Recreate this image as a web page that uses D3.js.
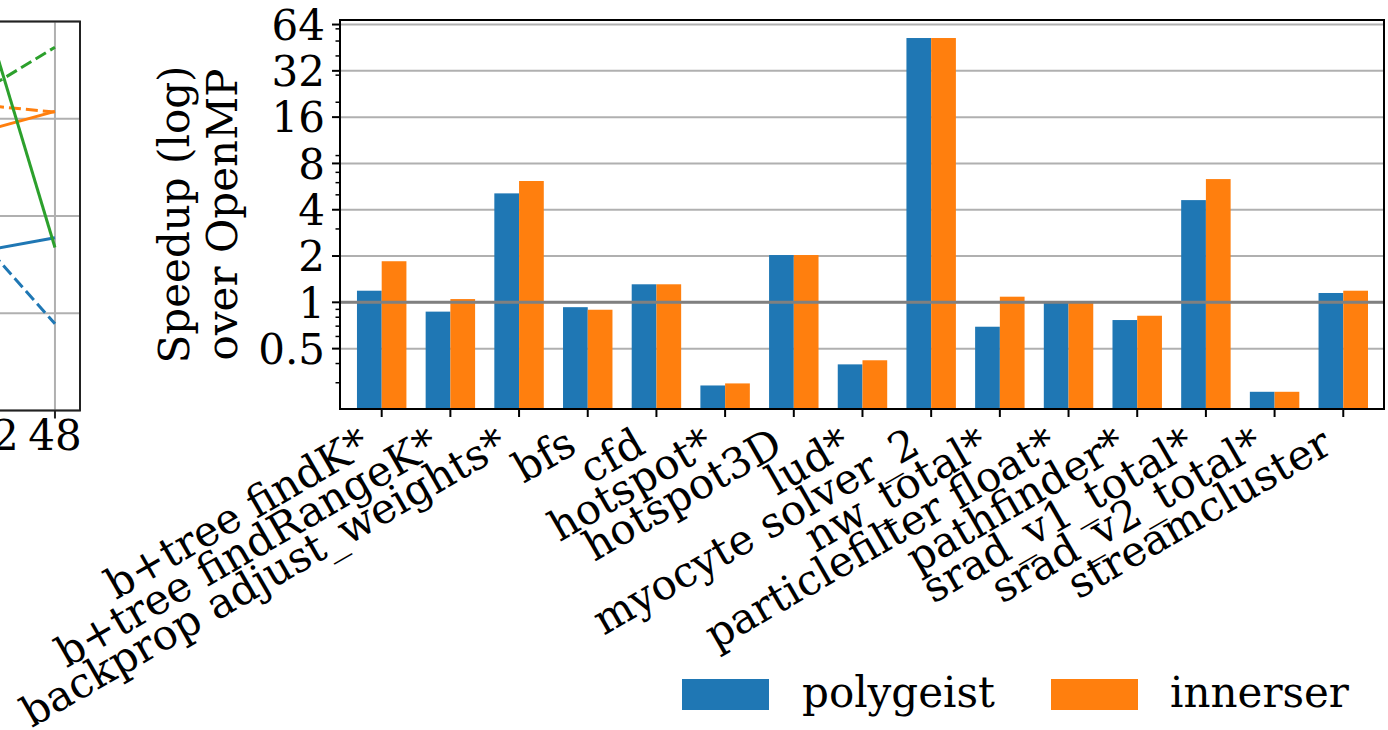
<!DOCTYPE html>
<html>
<head>
<meta charset="utf-8">
<script src="https://cdn.jsdelivr.net/npm/d3@7"></script>
<style>
  html, body { margin: 0; padding: 0; background: #fff; }
  svg { display: block; }
  text { font-family: "DejaVu Serif", serif; fill: #000; }
</style>
</head>
<body>
<svg id="fig" width="1388" height="730"></svg>
<script>
// ---- Bar panel data: speedup over OpenMP ----
const categories = [
  "b+tree findK*", "b+tree findRangeK*", "backprop adjust_weights*", "bfs", "cfd",
  "hotspot*", "hotspot3D", "lud*", "myocyte solver_2", "nw_total*",
  "particlefilter float*", "pathfinder*", "srad_v1_total*", "srad_v2_total*", "streamcluster"
];
const polygeist = [1.19, 0.87, 5.11, 0.93, 1.31, 0.288, 2.03, 0.395, 52.3, 0.694, 0.99, 0.767, 4.62, 0.262, 1.15];
const innerser  = [1.85, 1.05, 6.15, 0.895, 1.31, 0.297, 2.03, 0.42, 52.3, 1.088, 0.99, 0.818, 6.33, 0.262, 1.19];
const seriesNames = ["polygeist", "innerser"];
const yTickValues = [0.5, 1, 2, 4, 8, 16, 32, 64];
const yTickLabels = ["0.5", "1", "2", "4", "8", "16", "32", "64"];
const yMinorValues = [0.3, 0.4, 0.6, 0.7, 0.8, 0.9, 3, 5, 6, 7, 9, 20, 30, 40, 50, 60];
const yTitleLines = ["Speedup (log)", "over OpenMP"];

// ---- Scaling panel (right end of the thread sweep) ----
const threads = [32, 48];
const threadTickLabels = ["32", "48"];
const blueSolid    = [0.455, 0.597];
const blueDashed   = [0.418, 0.078];
const orangeSolid  = [7.9, 11.9];
const orangeDashed = [13.5, 11.7];
const greenSolid   = [66.8, 0.474];
const greenDashed  = [22.0, 54.4];
const scaleGrid = [0.01, 0.1, 1, 10, 100];

const C_BLUE = "#1f77b4", C_ORANGE = "#ff7f0e", C_GREEN = "#2ca02c";
const FS = 42;
const svg = d3.select("#fig");
svg.append("rect").attr("width", 1388).attr("height", 730).attr("fill", "#fff");

// ================= Scaling panel =================
const L = { right: 80, top: 21.5, bottom: 410.5 };
const lx = d3.scaleLog().base(2).domain([1, 56.4]).range([-546, L.right]);
const ly = d3.scaleLog().base(10).domain([0.01, 100]).range([L.bottom, L.top]);
const lg = svg.append("g");

lg.selectAll("line.hgrid").data(scaleGrid).join("line")
  .attr("x1", -10).attr("x2", L.right)
  .attr("y1", d => ly(d)).attr("y2", d => ly(d))
  .attr("stroke", "#b0b0b0").attr("stroke-width", 2);
lg.selectAll("line.vgrid").data(threads).join("line")
  .attr("x1", d => lx(d)).attr("x2", d => lx(d))
  .attr("y1", L.top).attr("y2", L.bottom)
  .attr("stroke", "#b0b0b0").attr("stroke-width", 2);

const scaleSeries = [
  { v: blueSolid, c: C_BLUE, dash: null },
  { v: blueDashed, c: C_BLUE, dash: "12,5" },
  { v: orangeSolid, c: C_ORANGE, dash: null },
  { v: orangeDashed, c: C_ORANGE, dash: "12,5" },
  { v: greenSolid, c: C_GREEN, dash: null },
  { v: greenDashed, c: C_GREEN, dash: "12,5" }
];
const lineGen = d3.line().x(d => lx(d[0])).y(d => ly(d[1]));
lg.append("g").attr("clip-path", "url(#clipL)")
  .selectAll("path").data(scaleSeries).join("path")
  .attr("d", s => lineGen(threads.map((t, i) => [t, s.v[i]])))
  .attr("fill", "none").attr("stroke", s => s.c).attr("stroke-width", 3)
  .attr("stroke-dasharray", s => s.dash);
svg.append("clipPath").attr("id", "clipL").append("rect")
  .attr("x", -600).attr("y", L.top).attr("width", 600 + L.right).attr("height", L.bottom - L.top);

// frame
lg.append("path")
  .attr("d", `M-10,${L.top}H${L.right}V${L.bottom}H-10`)
  .attr("fill", "none").attr("stroke", "#222").attr("stroke-width", 2);
lg.selectAll("line.xtick").data(threads).join("line")
  .attr("x1", d => lx(d)).attr("x2", d => lx(d))
  .attr("y1", L.bottom).attr("y2", L.bottom + 8)
  .attr("stroke", "#222").attr("stroke-width", 2);
lg.selectAll("text.xtl").data(threads).join("text")
  .attr("x", d => lx(d)).attr("y", L.bottom + 39)
  .attr("text-anchor", "middle").attr("font-size", FS)
  .text((d, i) => threadTickLabels[i]);

// ================= Bar panel =================
const R = { left: 340, right: 1384, top: 20, bottom: 409 };
const x = d3.scaleLinear().domain([-0.607, 14.593]).range([R.left, R.right]);
const y = d3.scaleLog().base(2).domain([0.2025, 68.5]).range([R.bottom, R.top]);
const barW = 0.36;
const g = svg.append("g");

// grid
g.selectAll("line.grid").data(yTickValues).join("line")
  .attr("x1", R.left).attr("x2", R.right)
  .attr("y1", d => y(d)).attr("y2", d => y(d))
  .attr("stroke", "#b0b0b0").attr("stroke-width", 2);

// bars
const barData = [];
categories.forEach((c, i) => {
  barData.push({ i, s: 0, v: polygeist[i] });
  barData.push({ i, s: 1, v: innerser[i] });
});
g.selectAll("rect.bar").data(barData).join("rect")
  .attr("x", d => x(d.i + (d.s === 0 ? -barW : 0)))
  .attr("width", x(barW) - x(0))
  .attr("y", d => y(d.v))
  .attr("height", d => y.range()[0] - y(d.v))
  .attr("fill", d => d.s === 0 ? C_BLUE : C_ORANGE);

// reference line at 1x
g.append("line")
  .attr("x1", R.left).attr("x2", R.right)
  .attr("y1", y(1)).attr("y2", y(1))
  .attr("stroke", "#808080").attr("stroke-width", 3);

// frame
g.append("rect")
  .attr("x", R.left).attr("y", R.top)
  .attr("width", R.right - R.left).attr("height", R.bottom - R.top)
  .attr("fill", "none").attr("stroke", "#000").attr("stroke-width", 2);

// y ticks
g.selectAll("line.ymaj").data(yTickValues).join("line")
  .attr("x1", R.left - 8).attr("x2", R.left)
  .attr("y1", d => y(d)).attr("y2", d => y(d))
  .attr("stroke", "#000").attr("stroke-width", 2);
g.selectAll("line.ymin").data(yMinorValues).join("line")
  .attr("x1", R.left - 4.5).attr("x2", R.left)
  .attr("y1", d => y(d)).attr("y2", d => y(d))
  .attr("stroke", "#000").attr("stroke-width", 1.5);
g.selectAll("text.ytl").data(yTickValues).join("text")
  .attr("x", R.left - 15).attr("y", d => y(d) + 0.365 * FS)
  .attr("text-anchor", "end").attr("font-size", FS)
  .text((d, i) => yTickLabels[i]);

// y title
const yt = g.append("text")
  .attr("transform", `translate(0,${(R.top + R.bottom) / 2}) rotate(-90)`)
  .attr("text-anchor", "middle").attr("font-size", FS);
yTitleLines.forEach((t, k) => {
  yt.append("tspan").attr("x", 0).attr("y", 189 + k * 48).text(t);
});

// x ticks + rotated labels
g.selectAll("line.xtick").data(categories).join("line")
  .attr("x1", (d, i) => x(i)).attr("x2", (d, i) => x(i))
  .attr("y1", R.bottom).attr("y2", R.bottom + 8)
  .attr("stroke", "#000").attr("stroke-width", 2);
const asc = 0.93 * FS, desc = 0.236 * FS, rad = Math.PI / 6;
g.selectAll("text.xtl").data(categories).join("text")
  .attr("transform", (d, i) =>
    `translate(${x(i) - 4 - desc * Math.sin(rad)},${R.bottom + 9 + asc * Math.cos(rad)}) rotate(-30)`)
  .attr("text-anchor", "end").attr("font-size", FS)
  .text(d => d);

// legend
const legendItems = [
  { name: seriesNames[0], c: C_BLUE, px: 682, tx: 802 },
  { name: seriesNames[1], c: C_ORANGE, px: 1051, tx: 1170 }
];
const lgd = svg.append("g");
lgd.selectAll("rect").data(legendItems).join("rect")
  .attr("x", d => d.px).attr("y", 679).attr("width", 87).attr("height", 31)
  .attr("fill", d => d.c);
lgd.selectAll("text").data(legendItems).join("text")
  .attr("x", d => d.tx).attr("y", 707).attr("font-size", FS)
  .text(d => d.name);
</script>
</body>
</html>
